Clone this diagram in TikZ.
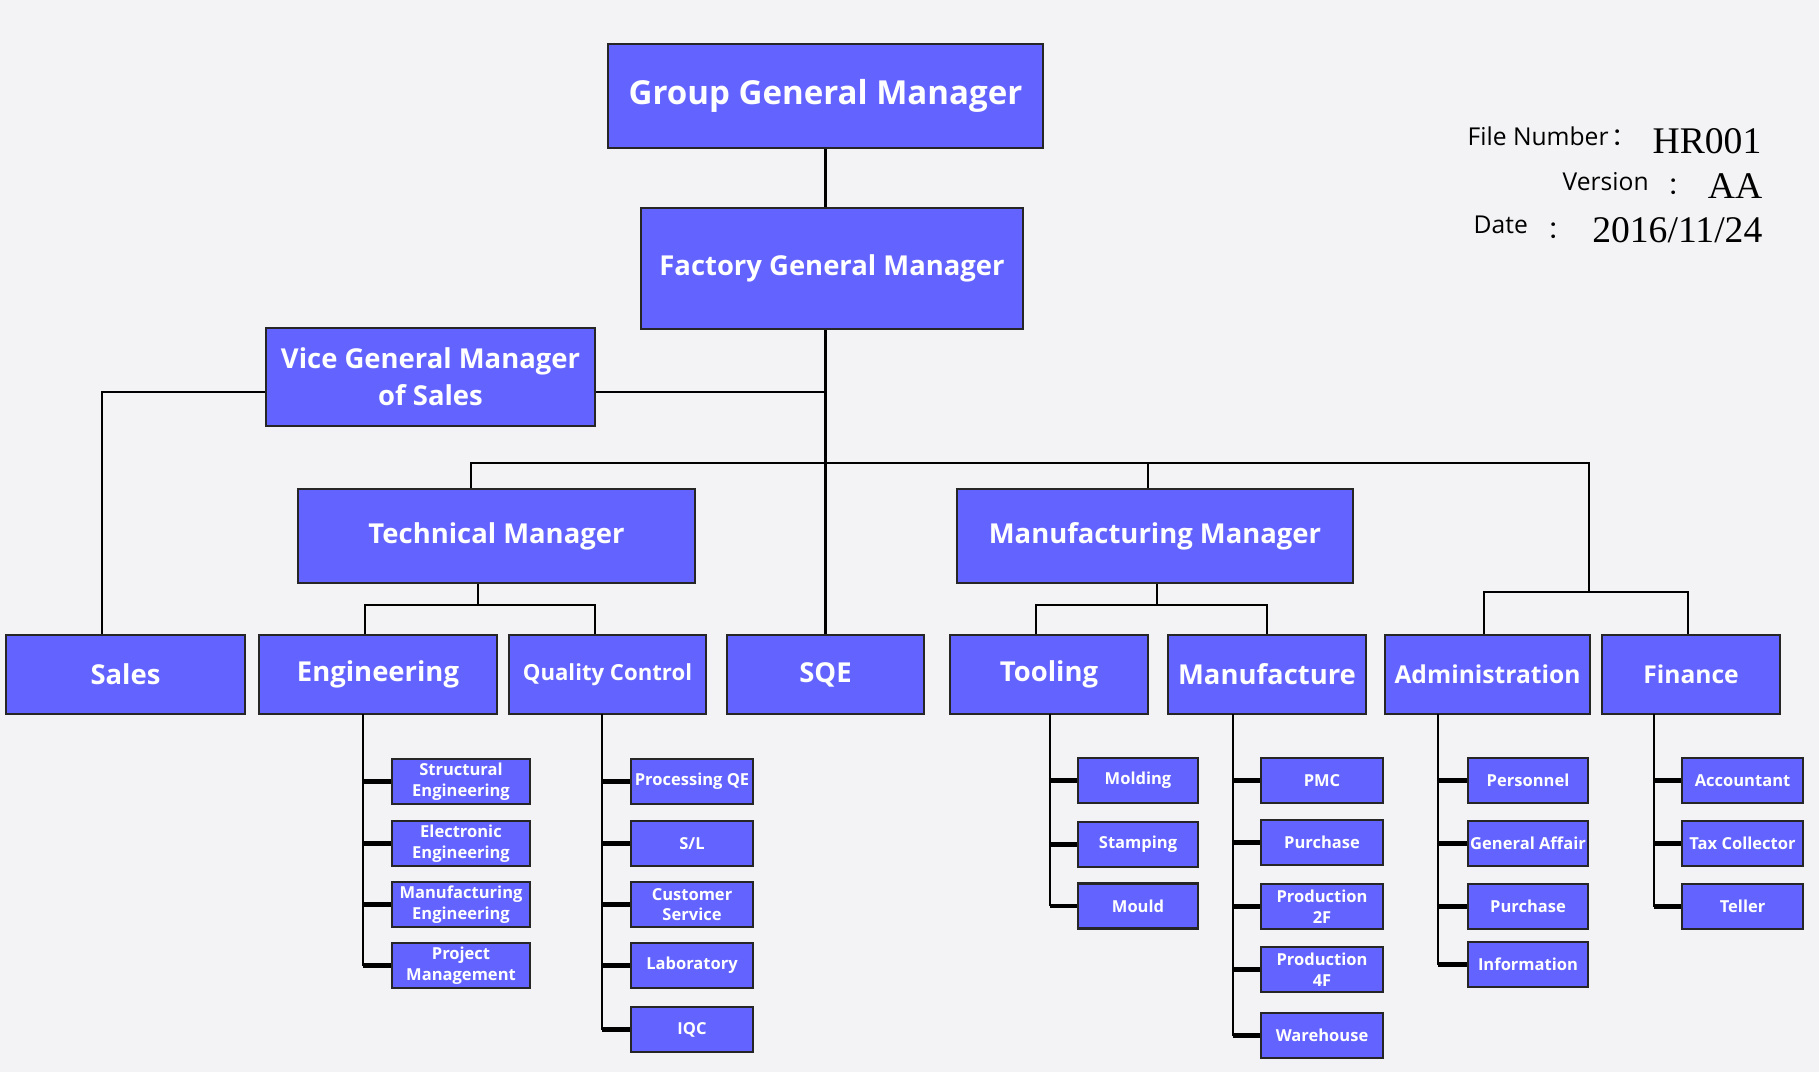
\documentclass[tikz,border=0pt]{standalone}
\usepackage{fontspec}
\setmainfont{Open Sans}
\newfontfamily\timesfont{Liberation Serif}
\newfontfamily\cjk{Noto Sans CJK SC}

\definecolor{boxblue}{RGB}{99,99,255}
\definecolor{paper}{RGB}{243,243,245}

\begin{document}
\begin{tikzpicture}[x=0.01cm, y=-0.01cm,
    box/.style={draw=black!85, line width=0.6pt, fill=boxblue, text=white, inner sep=0pt, align=center},
    bigbox/.style={box, font=\bfseries\fontsize{9.4}{11}\selectfont},
    midbox/.style={box, font=\bfseries\fontsize{7.8}{10.5}\selectfont},
    deptbox/.style={midbox, minimum height=0.79cm},
    subbox/.style={box, minimum height=0.45cm, font=\bfseries\fontsize{4.7}{5.9}\selectfont},
    infotext/.style={inner sep=0pt, font=\fontsize{7}{8}\selectfont},
    link/.style={line width=0.6pt},
    spine/.style={line width=0.75pt},
    stub/.style={line width=1.2pt}]

    % Background
    \fill[paper] (0,0) rectangle (1819,1072);
    \useasboundingbox (0,0) rectangle (1819,1072);

    % Top managers
    \node[bigbox, minimum width=4.35cm, minimum height=1.04cm] (ggm) at (825.5,96) {Group General Manager};
    \node[midbox, minimum width=3.82cm, minimum height=1.21cm] (fgm) at (832,268.5) {Factory General Manager};
    \node[midbox, minimum width=3.29cm, minimum height=0.98cm] (vgm) at (430.5,377) {Vice General Manager\\of Sales};
    \node[midbox, minimum width=3.96cm, minimum height=0.94cm] (tm) at (496.5,536) {Technical Manager};
    \node[midbox, minimum width=3.96cm, minimum height=0.94cm] (mm) at (1155,536) {Manufacturing Manager};

    % Departments
    \node[deptbox, minimum width=2.39cm] (sales) at (125.5,674.5) {Sales};
    \node[deptbox, minimum width=2.38cm] (eng) at (378,674.5) {Engineering};
    \node[deptbox, minimum width=1.97cm, font=\bfseries\fontsize{6.3}{8}\selectfont] (qc) at (607.5,674.5) {Quality Control};
    \node[deptbox, minimum width=1.97cm] (sqe) at (825.5,674.5) {SQE};
    \node[deptbox, minimum width=1.98cm] (tool) at (1049,674.5) {Tooling};
    \node[deptbox, minimum width=1.98cm] (mfg) at (1267,674.5) {Manufacture};
    \node[deptbox, minimum width=2.05cm, font=\bfseries\fontsize{7}{8}\selectfont] (admin) at (1487.5,674.5) {Administration};
    \node[deptbox, minimum width=1.78cm, font=\bfseries\fontsize{7}{8}\selectfont] (fin) at (1691,674.5) {Finance};

    % Sections under Engineering
    \foreach \name/\y/\txt in {se/781.5/{Structural\\Engineering}, ee/843.5/{Electronic\\Engineering},
        me/904.5/{Manufacturing\\Engineering}, pm/965.5/{Project\\Management}}
        \node[subbox, minimum width=1.38cm] (\name) at (461,\y) {\txt};

    % Sections under Quality Control
    \foreach \name/\y/\txt in {pqe/781.5/{Processing QE}, sl/843.5/{S/L}, cs/904.5/{Customer\\Service},
        lab/965.5/{Laboratory}, iqc/1029.5/{IQC}}
        \node[subbox, minimum width=1.22cm] (\name) at (692,\y) {\txt};

    % Sections under Tooling
    \foreach \name/\y/\txt in {mold/780.5/{Molding}, stamp/844.5/{Stamping}, mould/906/{Mould}}
        \node[subbox, minimum width=1.20cm] (\name) at (1138,\y) {\txt};

    % Sections under Manufacture
    \foreach \name/\y/\txt in {pmc/780.5/{PMC}, mpur/842.5/{Purchase}, ptwo/906.5/{Production\\2F},
        pfour/969.5/{Production\\4F}, wh/1035.5/{Warehouse}}
        \node[subbox, minimum width=1.22cm] (\name) at (1322,\y) {\txt};

    % Sections under Administration
    \foreach \name/\y/\txt in {pers/780.5/{Personnel}, ga/843.5/{General Affair}, apur/906.5/{Purchase},
        info/964.5/{Information}}
        \node[subbox, minimum width=1.20cm] (\name) at (1528,\y) {\txt};

    % Sections under Finance
    \foreach \name/\y/\txt in {acc/780.5/{Accountant}, tax/843.5/{Tax Collector}, tell/906.5/{Teller}}
        \node[subbox, minimum width=1.21cm] (\name) at (1742.5,\y) {\txt};

    % Junction points
    \coordinate (salesjoin) at (102,392);
    \coordinate (tmjoin) at (471,463);
    \coordinate (mmjoin) at (1148,463);
    \coordinate (afjoin) at (1589,463);
    \coordinate (afbus) at (1589,592);
    \coordinate (adminjoin) at (1484,592);
    \coordinate (finjoin) at (1688,592);
    \coordinate (tmdrop) at (477.6,605);
    \coordinate (engjoin) at (365,605);
    \coordinate (qcjoin) at (595,605);
    \coordinate (mmdrop) at (1157,605);
    \coordinate (tooljoin) at (1036,605);
    \coordinate (mfgjoin) at (1267,605);

    % Draw upper links
    \draw[link] (ggm.south) -- (ggm.south |- fgm.north);
    \draw[link] (sqe.north |- fgm.south) -- (sqe.north);
    \draw[link] (vgm.east |- salesjoin) -- (sqe.north |- salesjoin);
    \draw[link] (vgm.west |- salesjoin) -- (salesjoin) -- (salesjoin |- sales.north);

    % Draw main bus
    \draw[link] (tmjoin |- tm.north) -- (tmjoin) -- (afjoin) -- (afbus);
    \draw[link] (mmjoin) -- (mmjoin |- mm.north);
    \draw[link] (adminjoin |- admin.north) -- (adminjoin) -- (finjoin) -- (finjoin |- fin.north);

    % Draw manager links
    \draw[link] (tmdrop |- tm.south) -- (tmdrop);
    \draw[link] (engjoin |- eng.north) -- (engjoin) -- (qcjoin) -- (qcjoin |- qc.north);
    \draw[link] (mmdrop |- mm.south) -- (mmdrop);
    \draw[link] (tooljoin |- tool.north) -- (tooljoin) -- (mfgjoin) -- (mfgjoin |- mfg.north);

    % Draw section spines
    \coordinate (engspine) at (363,714);
    \coordinate (qcspine) at (602,714);
    \coordinate (toolspine) at (1050,714);
    \coordinate (mfgspine) at (1233,714);
    \coordinate (adminspine) at (1438,714);
    \coordinate (finspine) at (1654,714);

    \draw[spine] (engspine) -- (engspine |- pm.west);
    \foreach \n in {se,ee,me,pm} \draw[stub] (engspine |- \n.west) -- (\n.west);
    \draw[spine] (qcspine) -- (qcspine |- iqc.west);
    \foreach \n in {pqe,sl,cs,lab,iqc} \draw[stub] (qcspine |- \n.west) -- (\n.west);
    \draw[spine] (toolspine) -- (toolspine |- mould.west);
    \foreach \n in {mold,stamp,mould} \draw[stub] (toolspine |- \n.west) -- (\n.west);
    \draw[spine] (mfgspine) -- (mfgspine |- wh.west);
    \foreach \n in {pmc,mpur,ptwo,pfour,wh} \draw[stub] (mfgspine |- \n.west) -- (\n.west);
    \draw[spine] (adminspine) -- (adminspine |- info.west);
    \foreach \n in {pers,ga,apur,info} \draw[stub] (adminspine |- \n.west) -- (\n.west);
    \draw[spine] (finspine) -- (finspine |- tell.west);
    \foreach \n in {acc,tax,tell} \draw[stub] (finspine |- \n.west) -- (\n.west);

    % File information
    \node[infotext, anchor=base west] (filelabel) at (1467,145) {File Number};
    \node[infotext, anchor=base, font=\cjk\fontsize{7}{8}\selectfont] (filecolon) at (1624,145) {：};
    \node[infotext, anchor=base east, font=\timesfont\fontsize{10.7}{12}\selectfont] (fileval) at (1762,153) {HR001};
    \node[infotext, anchor=base west] (verlabel) at (1562,190) {Version};
    \node[infotext, anchor=base, font=\cjk\fontsize{7}{8}\selectfont] (vercolon) at (1680,194) {：};
    \node[infotext, anchor=base east, font=\timesfont\fontsize{10.7}{12}\selectfont] (verval) at (1763,198) {AA};
    \node[infotext, anchor=base west] (datelabel) at (1473,233) {Date};
    \node[infotext, anchor=base, font=\cjk\fontsize{7}{8}\selectfont] (datecolon) at (1560,238) {：};
    \node[infotext, anchor=base east, font=\timesfont\fontsize{10.7}{12}\selectfont] (dateval) at (1763,242) {2016/11/24};

\end{tikzpicture}
\end{document}
